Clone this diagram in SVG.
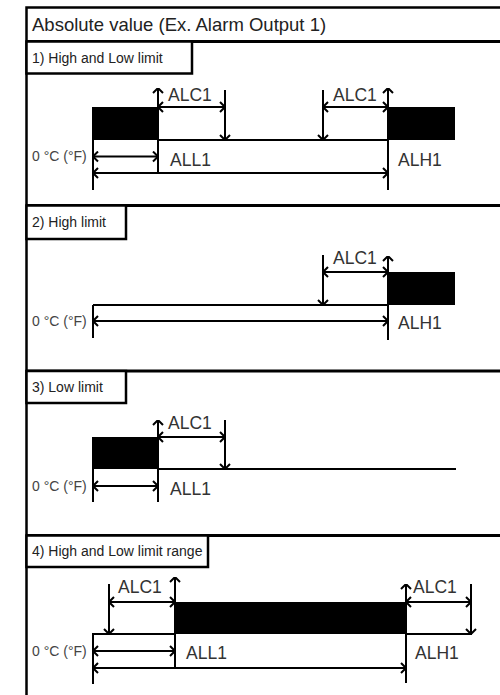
<svg xmlns="http://www.w3.org/2000/svg" width="500" height="695" viewBox="0 0 500 695">
<style>
  .frame{fill:none;stroke:#000;stroke-width:2.5}
  .div{stroke:#000;stroke-width:3}
  .box{fill:#fff;stroke:#000;stroke-width:2.5}
  .ln{stroke:#000;stroke-width:2;fill:none}
  .blk{fill:#000}
  .dbl{marker-start:url(#ah);marker-end:url(#ah)}
  .one{marker-end:url(#ah)}
  .title{font-family:"Liberation Sans",Arial,sans-serif;font-size:18.5px;fill:#222}
  .sub{font-family:"Liberation Sans",Arial,sans-serif;font-size:14px;fill:#222}
  .lbl{font-family:"Liberation Sans",Arial,sans-serif;font-size:17.5px;fill:#333}
  .zero{font-family:"Liberation Sans",Arial,sans-serif;font-size:14px;fill:#444}
</style>
<defs>
  <marker id="ah" viewBox="0 0 10 12" refX="9.5" refY="6" markerWidth="10" markerHeight="12" orient="auto-start-reverse" markerUnits="userSpaceOnUse">
    <path d="M4.5,1 L9.5,6 L4.5,11" fill="none" stroke="#000" stroke-width="2"/>
  </marker>
</defs>
<rect width="500" height="695" fill="#fff"/>

<g id="frame">
  <path class="frame" d="M26.5,700 V7.5 H505"/>
  <line class="div" x1="26" y1="41.5" x2="500" y2="41.5"/>
  <line class="div" x1="26" y1="205.5" x2="500" y2="205.5"/>
  <line class="div" x1="26" y1="371" x2="500" y2="371"/>
  <line class="div" x1="26" y1="535.5" x2="500" y2="535.5"/>
  <text class="title" x="32" y="30.5">Absolute value (Ex. Alarm Output 1)</text>
</g>

<g id="section1">
  <rect class="box" x="26.5" y="41.5" width="165.5" height="32"/>
  <text class="sub" x="32" y="63">1) High and Low limit</text>
  <rect class="blk" x="92" y="107" width="66" height="33"/>
  <rect class="blk" x="388" y="107" width="67" height="33"/>
  <g id="connectors1">
    <line class="ln" x1="158" y1="140" x2="388" y2="140"/>
    <line class="ln" x1="93" y1="107" x2="93" y2="190"/>
    <line class="ln one" x1="158" y1="173" x2="158" y2="88"/>
    <line class="ln one" x1="388" y1="190" x2="388" y2="88"/>
    <line class="ln dbl" x1="158" y1="107" x2="225" y2="107"/>
    <line class="ln one" x1="225" y1="90" x2="225" y2="140"/>
    <line class="ln one" x1="323" y1="90" x2="323" y2="140"/>
    <line class="ln dbl" x1="323" y1="107" x2="388" y2="107"/>
    <line class="ln dbl" x1="93" y1="156.5" x2="158" y2="156.5"/>
    <line class="ln dbl" x1="93" y1="173" x2="388" y2="173"/>
  </g>
  <text class="lbl" x="168" y="100.5">ALC1</text>
  <text class="lbl" x="333" y="100.5">ALC1</text>
  <text class="lbl" x="170" y="166">ALL1</text>
  <text class="lbl" x="398" y="166">ALH1</text>
  <text class="zero" x="32" y="161">0 °C (°F)</text>
</g>

<g id="section2">
  <rect class="box" x="26.5" y="205.5" width="99.5" height="33.5"/>
  <text class="sub" x="32" y="227">2) High limit</text>
  <rect class="blk" x="388" y="272" width="67" height="33"/>
  <g id="connectors2">
    <line class="ln" x1="93" y1="305" x2="388" y2="305"/>
    <line class="ln" x1="93" y1="305" x2="93" y2="338"/>
    <line class="ln one" x1="323" y1="255" x2="323" y2="305"/>
    <line class="ln dbl" x1="323" y1="272" x2="388" y2="272"/>
    <line class="ln one" x1="388" y1="340" x2="388" y2="256"/>
    <line class="ln dbl" x1="93" y1="321" x2="388" y2="321"/>
  </g>
  <text class="lbl" x="333" y="263.5">ALC1</text>
  <text class="lbl" x="398" y="329">ALH1</text>
  <text class="zero" x="32" y="325.5">0 °C (°F)</text>
</g>

<g id="section3">
  <rect class="box" x="26.5" y="371" width="99.5" height="32"/>
  <text class="sub" x="32" y="391.5">3) Low limit</text>
  <rect class="blk" x="92" y="437" width="66" height="32"/>
  <g id="connectors3">
    <line class="ln" x1="158" y1="469" x2="456" y2="469"/>
    <line class="ln" x1="93" y1="469" x2="93" y2="502"/>
    <line class="ln one" x1="158" y1="502" x2="158" y2="420"/>
    <line class="ln dbl" x1="158" y1="437" x2="225" y2="437"/>
    <line class="ln one" x1="225" y1="420" x2="225" y2="469"/>
    <line class="ln dbl" x1="93" y1="486" x2="158" y2="486"/>
  </g>
  <text class="lbl" x="168" y="429">ALC1</text>
  <text class="lbl" x="170" y="495">ALL1</text>
  <text class="zero" x="32" y="490.5">0 °C (°F)</text>
</g>

<g id="section4">
  <rect class="box" x="26.5" y="535.5" width="181.5" height="31.5"/>
  <text class="sub" x="32" y="556">4) High and Low limit range</text>
  <rect class="blk" x="175" y="602" width="231" height="32"/>
  <g id="connectors4">
    <line class="ln" x1="93" y1="634" x2="175" y2="634"/>
    <line class="ln" x1="406" y1="634" x2="472" y2="634"/>
    <line class="ln" x1="93" y1="633" x2="93" y2="684"/>
    <line class="ln one" x1="109" y1="584" x2="109" y2="634"/>
    <line class="ln dbl" x1="109" y1="602" x2="175" y2="602"/>
    <line class="ln one" x1="175" y1="667" x2="175" y2="577"/>
    <line class="ln one" x1="406" y1="683" x2="406" y2="584"/>
    <line class="ln dbl" x1="406" y1="602" x2="471" y2="602"/>
    <line class="ln one" x1="471" y1="584" x2="471" y2="634"/>
    <line class="ln dbl" x1="93" y1="651" x2="175" y2="651"/>
    <line class="ln dbl" x1="93" y1="668" x2="406" y2="668"/>
  </g>
  <text class="lbl" x="118" y="593">ALC1</text>
  <text class="lbl" x="413" y="593">ALC1</text>
  <text class="lbl" x="186" y="659">ALL1</text>
  <text class="lbl" x="415" y="659">ALH1</text>
  <text class="zero" x="32" y="655.5">0 °C (°F)</text>
</g>
</svg>
